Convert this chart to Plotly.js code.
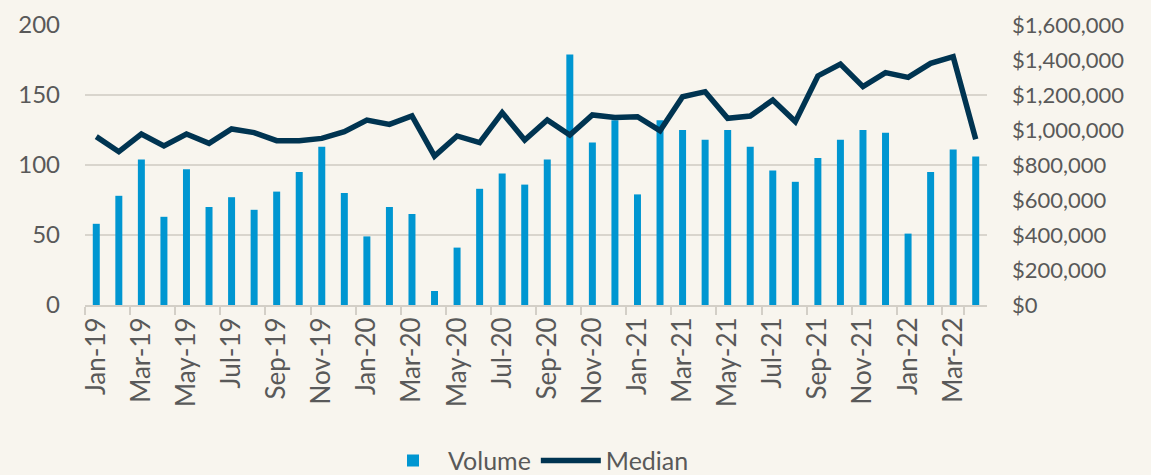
<!DOCTYPE html>
<html>
<head>
<meta charset="utf-8">
<script src="https://cdn.plot.ly/plotly-3.0.1.min.js"></script>
<style>
html,body{margin:0;padding:0;background:#f8f5ee;}
#chart{width:1151px;height:475px;}
</style>
</head>
<body>
<div id="chart"></div>
<script>
const months = ["Jan-19","Feb-19","Mar-19","Apr-19","May-19","Jun-19","Jul-19","Aug-19","Sep-19","Oct-19","Nov-19","Dec-19",
"Jan-20","Feb-20","Mar-20","Apr-20","May-20","Jun-20","Jul-20","Aug-20","Sep-20","Oct-20","Nov-20","Dec-20",
"Jan-21","Feb-21","Mar-21","Apr-21","May-21","Jun-21","Jul-21","Aug-21","Sep-21","Oct-21","Nov-21","Dec-21",
"Jan-22","Feb-22","Mar-22","Apr-22"];
const volume = [58,78,104,63,97,70,77,68,81,95,113,80,
49,70,65,10,41,83,94,86,104,179,116,132,
79,132,125,118,125,113,96,88,105,118,125,123,
51,95,111,106];
const median = [962000,876000,977000,909000,977000,924000,1006000,985000,939000,939000,952000,990000,
1057000,1032000,1080000,851000,966000,928000,1099000,943000,1057000,971000,1086000,1072000,
1076000,996000,1190000,1219000,1067000,1080000,1171000,1048000,1309000,1377000,1248000,1328000,
1301000,1381000,1419000,947000];
const leftTicks = [0,50,100,150,200];
const rightTicks = [0,200000,400000,600000,800000,1000000,1200000,1400000,1600000];
const rightLabels = ["$0","$200,000","$400,000","$600,000","$800,000","$1,000,000","$1,200,000","$1,400,000","$1,600,000"];

const txt = '#595959';
const fontFam = 'Lato, "Open Sans", sans-serif';

const traces = [
  {type:'bar', name:'Volume', x:months, y:volume, marker:{color:'#0096d1'}, yaxis:'y'},
  {type:'scatter', mode:'lines', name:'Median', x:months, y:median, yaxis:'y2',
   line:{color:'#003451', width:5.5, shape:'linear'}}
];

const layout = {
  width:1151, height:475,
  paper_bgcolor:'#f8f5ee', plot_bgcolor:'#f8f5ee',
  margin:{l:85, r:164, t:25, b:170},
  bargap:0.69,
  showlegend:true,
  font:{family:fontFam, color:txt, size:21},
  xaxis:{
    type:'category', tickangle:-90, tickmode:'array',
    tickvals: months.filter((m,i)=>i%2===0),
    ticks:'outside', tickson:'boundaries', ticklen:8, tickcolor:'#d3cfc7', tickwidth:2,
    showline:true, linecolor:'#d3cfc7', linewidth:2,
    showgrid:false, tickfont:{size:26, color:txt, family:fontFam},
    range:[-0.5, 39.5]
  },
  yaxis:{
    range:[0,200], tickmode:'array', tickvals:leftTicks,
    showgrid:true, gridcolor:'#d9d5cd', gridwidth:2, zeroline:false,
    tickfont:{size:24, color:txt, family:fontFam}, ticklabelstandoff:24
  },
  yaxis2:{
    overlaying:'y', side:'right', range:[0,1600000],
    tickmode:'array', tickvals:rightTicks, ticktext:rightLabels,
    showgrid:false, zeroline:false,
    tickfont:{size:22, color:txt, family:fontFam}, ticklabelstandoff:24
  },
  legend:{orientation:'h', x:0.5, xanchor:'center', yref:'container', y:0.03, yanchor:'middle',
    font:{size:25, color:txt, family:fontFam}, itemwidth:60, bgcolor:'rgba(0,0,0,0)', traceorder:'normal'}
};

Plotly.newPlot('chart', traces, layout, {displayModeBar:false, staticPlot:true});
</script>
</body>
</html>
